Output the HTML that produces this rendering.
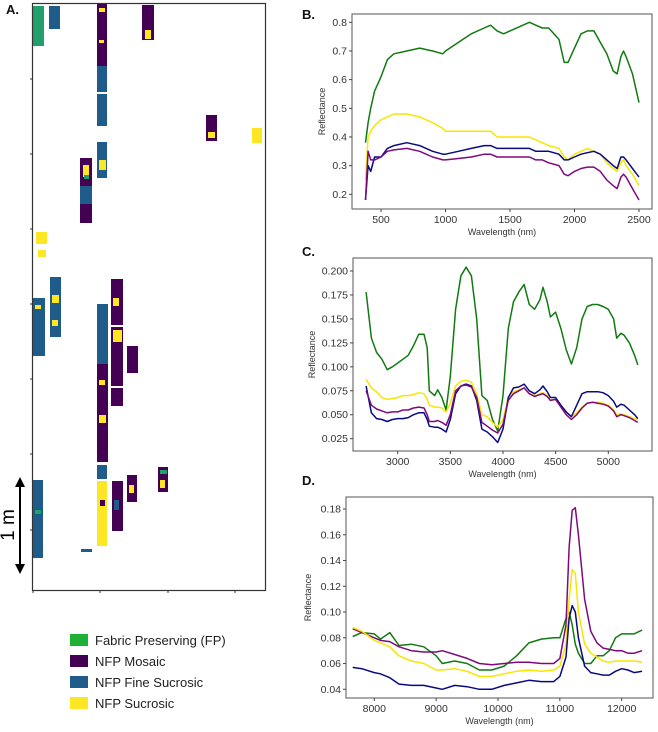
<!DOCTYPE html>
<html><head><meta charset="utf-8"><style>
body{margin:0;background:#fff;width:658px;height:732px;overflow:hidden;font-family:"Liberation Sans",sans-serif}
svg{position:absolute;left:0;top:0}
</style></head><body>
<svg id="s" width="658" height="732" xmlns="http://www.w3.org/2000/svg"></svg>
<script>
// Panel B data
const bWl=[380,400,420,450,500,550,600,700,800,900,980,1000,1100,1200,1300,1350,1400,1450,1500,1600,1650,1700,1750,1800,1880,1920,1950,2000,2050,2100,2150,2200,2250,2300,2330,2360,2380,2400,2450,2500];
const bGreen=[0.38,0.45,0.50,0.56,0.61,0.67,0.69,0.70,0.71,0.70,0.69,0.70,0.73,0.76,0.78,0.79,0.77,0.76,0.77,0.79,0.80,0.79,0.78,0.78,0.74,0.66,0.66,0.71,0.76,0.77,0.77,0.73,0.69,0.63,0.62,0.68,0.70,0.68,0.62,0.52];
const bYellow=[0.25,0.40,0.42,0.44,0.46,0.47,0.48,0.48,0.47,0.45,0.43,0.42,0.42,0.42,0.42,0.42,0.40,0.40,0.40,0.40,0.40,0.39,0.38,0.37,0.36,0.33,0.32,0.34,0.35,0.36,0.35,0.34,0.31,0.29,0.28,0.31,0.32,0.30,0.27,0.23];
const bNavy=[0.18,0.30,0.28,0.33,0.33,0.36,0.37,0.38,0.37,0.35,0.34,0.34,0.35,0.36,0.37,0.37,0.36,0.36,0.36,0.36,0.36,0.35,0.35,0.35,0.34,0.32,0.32,0.33,0.34,0.345,0.35,0.34,0.32,0.30,0.29,0.33,0.33,0.32,0.29,0.26];
const bPurple=[0.18,0.35,0.32,0.32,0.33,0.35,0.355,0.36,0.35,0.33,0.32,0.32,0.325,0.33,0.34,0.34,0.33,0.33,0.33,0.33,0.33,0.32,0.32,0.31,0.30,0.27,0.265,0.28,0.29,0.295,0.295,0.28,0.25,0.23,0.22,0.26,0.27,0.26,0.22,0.18];
const bXTicks=[500,1000,1500,2000,2500];
const bYTicks=[0.2,0.3,0.4,0.5,0.6,0.7,0.8];
// Panel C data
const cWl=[2700,2750,2800,2850,2900,2950,3000,3050,3100,3150,3200,3250,3280,3300,3350,3380,3420,3460,3500,3550,3600,3650,3700,3750,3800,3850,3900,3950,4000,4050,4100,4150,4200,4250,4300,4350,4380,4420,4450,4500,4550,4600,4650,4700,4750,4800,4850,4900,4950,5000,5050,5080,5120,5150,5200,5250,5280];
const cGreen=[.178,.130,.115,.108,.097,.100,.104,.108,.112,.122,.134,.134,.120,.075,.070,.076,.068,.055,.090,.160,.195,.204,.195,.150,.070,.065,.045,.033,.070,.140,.168,.178,.186,.165,.160,.170,.183,.168,.152,.157,.140,.118,.103,.120,.150,.163,.165,.165,.163,.160,.150,.130,.135,.133,.125,.112,.102];
const cYellow=[.087,.078,.074,.068,.066,.067,.068,.070,.070,.071,.073,.072,.066,.060,.058,.058,.057,.053,.062,.080,.085,.086,.084,.072,.050,.048,.042,.037,.045,.068,.074,.076,.078,.072,.070,.072,.073,.070,.065,.066,.060,.053,.048,.052,.058,.062,.063,.063,.062,.060,.055,.050,.051,.050,.048,.046,.045];
const cNavy=[.080,.052,.046,.045,.043,.045,.046,.046,.047,.050,.052,.052,.045,.038,.037,.037,.035,.032,.045,.072,.080,.082,.080,.065,.035,.032,.027,.021,.035,.068,.078,.079,.082,.075,.072,.076,.080,.074,.068,.068,.060,.053,.048,.060,.072,.074,.074,.074,.073,.070,.064,.058,.061,.060,.055,.050,.046];
const cPurple=[.075,.060,.056,.054,.052,.053,.053,.055,.055,.057,.058,.057,.050,.043,.043,.044,.042,.039,.050,.075,.080,.081,.079,.068,.042,.038,.034,.031,.040,.065,.072,.075,.078,.072,.069,.071,.072,.069,.065,.066,.058,.050,.045,.050,.057,.062,.063,.062,.061,.059,.054,.048,.050,.049,.047,.044,.042];
const cXTicks=[3000,3500,4000,4500,5000];
const cYTicks=[0.025,0.05,0.075,0.1,0.125,0.15,0.175,0.2];
// Panel D data
const dWl=[7650,7800,8000,8100,8250,8400,8600,8800,9000,9100,9300,9500,9700,9900,10100,10300,10500,10700,10900,11000,11100,11150,11200,11250,11300,11400,11500,11600,11700,11800,11900,12000,12100,12200,12330];
const dGreen=[.081,.084,.083,.079,.084,.074,.075,.073,.066,.060,.062,.060,.055,.055,.058,.066,.076,.079,.080,.080,.095,.100,.090,.075,.068,.060,.060,.066,.066,.070,.080,.083,.083,.083,.086];
const dPurple=[.087,.084,.080,.078,.077,.073,.070,.069,.069,.070,.067,.064,.060,.059,.060,.061,.061,.060,.060,.064,.090,.150,.179,.181,.160,.110,.085,.076,.072,.071,.070,.070,.068,.068,.070];
const dYellow=[.088,.085,.078,.076,.073,.066,.062,.060,.055,.055,.056,.054,.050,.050,.052,.054,.055,.054,.055,.058,.075,.110,.133,.130,.100,.075,.068,.065,.062,.061,.062,.062,.062,.062,.061];
const dNavy=[.057,.056,.053,.052,.049,.044,.043,.043,.041,.040,.043,.042,.040,.040,.043,.045,.047,.046,.046,.050,.065,.095,.105,.100,.080,.058,.053,.052,.051,.051,.054,.056,.055,.053,.054];
const dXTicks=[8000,9000,10000,11000,12000];
const dYTicks=[0.04,0.06,0.08,0.10,0.12,0.14,0.16,0.18];

const NS="http://www.w3.org/2000/svg", S=document.getElementById('s');
function el(t,a,p){const e=document.createElementNS(NS,t);for(const k in a)e.setAttribute(k,a[k]);(p||S).appendChild(e);return e;}
const COL={green:'#117a11',yellow:'#f7e600',navy:'#0a0a80',purple:'#7d0a7d'};

function panel(cfg){
  const g=el('g',{});
  
  
  const X=v=>cfg.x0+(v-cfg.xa)*(cfg.x1-cfg.x0)/(cfg.xb-cfg.xa);
  const Y=v=>cfg.y0+(v-cfg.ya)*(cfg.y1-cfg.y0)/(cfg.yb-cfg.ya);
  const f=el('rect',{x:cfg.L,y:cfg.T,width:cfg.R-cfg.L,height:cfg.B-cfg.T,fill:'none',stroke:'#555','stroke-width':1},g);
  
  cfg.xt.forEach(t=>{const x=X(t);
    el('line',{x1:x,x2:x,y1:cfg.B,y2:cfg.B+3,stroke:'#444'},g);
    const tx=el('text',{x:x,y:cfg.B+14,'font-size':10.5,'text-anchor':'middle',fill:'#333'},g);tx.textContent=t;
    });
  cfg.yt.forEach(t=>{const y=Y(t);
    el('line',{x1:cfg.L-3,x2:cfg.L,y1:y,y2:y,stroke:'#444'},g);
    const tx=el('text',{x:cfg.L-5,y:y+3.5,'font-size':10.5,'text-anchor':'end',fill:'#333'},g);tx.textContent=t.toFixed(cfg.dec);
    });
  const xl=el('text',{x:(cfg.L+cfg.R)/2,y:cfg.B+26,'font-size':9,'text-anchor':'middle',fill:'#333'},g);xl.textContent='Wavelength (nm)';
  
  const yx=cfg.ylx,yy=(cfg.T+cfg.B)/2;
  const yl=el('text',{x:yx,y:yy,'font-size':9,'text-anchor':'middle',fill:'#333',transform:`rotate(-90 ${yx} ${yy})`},g);yl.textContent='Reflectance';
  
  const pl=el('text',{x:cfg.lx,y:cfg.ly,'font-size':13,'font-weight':'bold',fill:'#111'},g);pl.textContent=cfg.label;
  
  cfg.series.forEach(s=>{
    const d=cfg.wl.map((w,i)=>(i?'L':'M')+X(w).toFixed(1)+','+Y(s.v[i]).toFixed(1)).join('');
    const p=el('path',{d:d,fill:'none',stroke:COL[s.c],'stroke-width':1.5,'stroke-linejoin':'round'},g);
    
  });
}
panel({name:'panel-b-chart',label:'B.',lx:302,ly:19,L:352,R:652,T:14,B:209,xa:500,xb:2500,x0:381,x1:639,ya:0.8,yb:0.2,y0:22.3,y1:194.3,xt:bXTicks,yt:bYTicks,dec:1,ylx:325,wl:bWl,
 series:[{n:'line-fp-green',c:'green',v:bGreen},{n:'line-sucrosic-yellow',c:'yellow',v:bYellow},{n:'line-fine-sucrosic-navy',c:'navy',v:bNavy},{n:'line-mosaic-purple',c:'purple',v:bPurple}]});
panel({name:'panel-c-chart',label:'C.',lx:302,ly:256,L:353,R:652,T:258,B:451,xa:3000,xb:5000,x0:397.7,x1:608.3,ya:0.2,yb:0.025,y0:271,y1:438.7,xt:cXTicks,yt:cYTicks,dec:3,ylx:315,wl:cWl,
 series:[{n:'line-fp-green',c:'green',v:cGreen},{n:'line-sucrosic-yellow',c:'yellow',v:cYellow},{n:'line-fine-sucrosic-navy',c:'navy',v:cNavy},{n:'line-mosaic-purple',c:'purple',v:cPurple}]});
panel({name:'panel-d-chart',label:'D.',lx:302,ly:485,L:346,R:653,T:497,B:698,xa:8000,xb:12000,x0:374.3,x1:621.7,ya:0.18,yb:0.04,y0:509,y1:689.3,xt:dXTicks,yt:dYTicks,dec:2,ylx:311,wl:dWl,
 series:[{n:'line-fp-green',c:'green',v:dGreen},{n:'line-mosaic-purple',c:'purple',v:dPurple},{n:'line-sucrosic-yellow',c:'yellow',v:dYellow},{n:'line-fine-sucrosic-navy',c:'navy',v:dNavy}]});

// Panel A map
const MC={g:'#22a06b',p:'#440154',b:'#1f5c8a',y:'#fde725'};
const A=el('g',{});
const al=el('text',{x:6,y:14,'font-size':13,'font-weight':'bold',fill:'#111'},A);al.textContent='A.';
const blocks=[[33,6,11,40,'g'],[49,6,11,23,'b'],[97,4,10,72,'p'],[97,66,10,26,'b'],[97,94,10,32,'b'],[142,5,12,35,'p'],[206,115,11,26,'p'],[252,128,10,15,'y'],
[97,142,10,36,'b'],[80,158,12,65,'p'],[80,186,12,18,'b'],[36,232,11,12,'y'],[38,250,8,7,'y'],[50,277,11,60,'b'],[33,298,12,58,'b'],[111,279,12,46,'p'],[111,327,12,59,'p'],[111,388,12,18,'p'],
[97,304,11,60,'b'],[97,364,11,40,'p'],[97,404,11,58,'p'],[127,346,11,27,'p'],[97,465,10,14,'b'],[97,481,10,65,'y'],[112,481,11,50,'p'],[127,475,10,27,'p'],[158,467,10,25,'p'],[33,480,10,78,'b'],[81,549,11,3,'b']];
blocks.forEach(r=>{const e=el('rect',{x:r[0],y:r[1],width:r[2],height:r[3],fill:MC[r[4]]},A);});
const spots=[[99,8,6,4,'y'],[145,30,6,5,'y'],[208,132,7,6,'y'],[99,160,7,10,'y'],[83,165,6,12,'y'],[84,175,5,4,'g'],[52,295,7,8,'y'],[52,320,6,6,'y'],[35,305,6,4,'y'],[113,298,6,8,'y'],[113,330,9,12,'y'],[99,380,6,5,'y'],[99,415,7,8,'y'],[129,485,5,8,'y'],[160,470,7,4,'g'],[160,480,5,8,'y'],[114,500,5,10,'b'],[35,510,6,4,'g'],[100,500,5,6,'p'],[145,35,6,4,'y'],[99,40,5,3,'y']];
spots.forEach(r=>{const e=el('rect',{x:r[0],y:r[1],width:r[2],height:r[3],fill:MC[r[4]]},A);});
const af=el('rect',{x:32.5,y:3.5,width:233,height:587,fill:'none',stroke:'#333','stroke-width':1.2},A);
[79,154,229,304,379,454,530].forEach(y=>el('line',{x1:30,x2:33,y1:y,y2:y,stroke:'#333'},A));
[33,100,168,235].forEach(x=>el('line',{x1:x,x2:x,y1:590,y2:593,stroke:'#333'},A));
const ar=el('g',{},A);
el('line',{x1:20,x2:20,y1:484,y2:567,stroke:'#000','stroke-width':2},ar);
el('polygon',{points:'20,477 15,487 25,487',fill:'#000'},ar);
el('polygon',{points:'20,574 15,564 25,564',fill:'#000'},ar);
const sb=el('text',{x:14,y:525,'font-size':19,'text-anchor':'middle',fill:'#000',transform:'rotate(-90 14 525)'},A);sb.textContent='1 m';


// Legend
const legItems=[['Fabric Preserving (FP)','#1fb035'],['NFP Mosaic','#440154'],['NFP Fine Sucrosic','#1f5c8a'],['NFP Sucrosic','#fde725']];
const LG=el('g',{});
legItems.forEach((it,i)=>{const y=634+i*21;
  const r=el('rect',{x:70,y:y,width:18,height:12,fill:it[1]},LG);
  const t=el('text',{x:95,y:y+11,'font-size':13,fill:'#222'},LG);t.textContent=it[0];});
</script>
</body></html>
